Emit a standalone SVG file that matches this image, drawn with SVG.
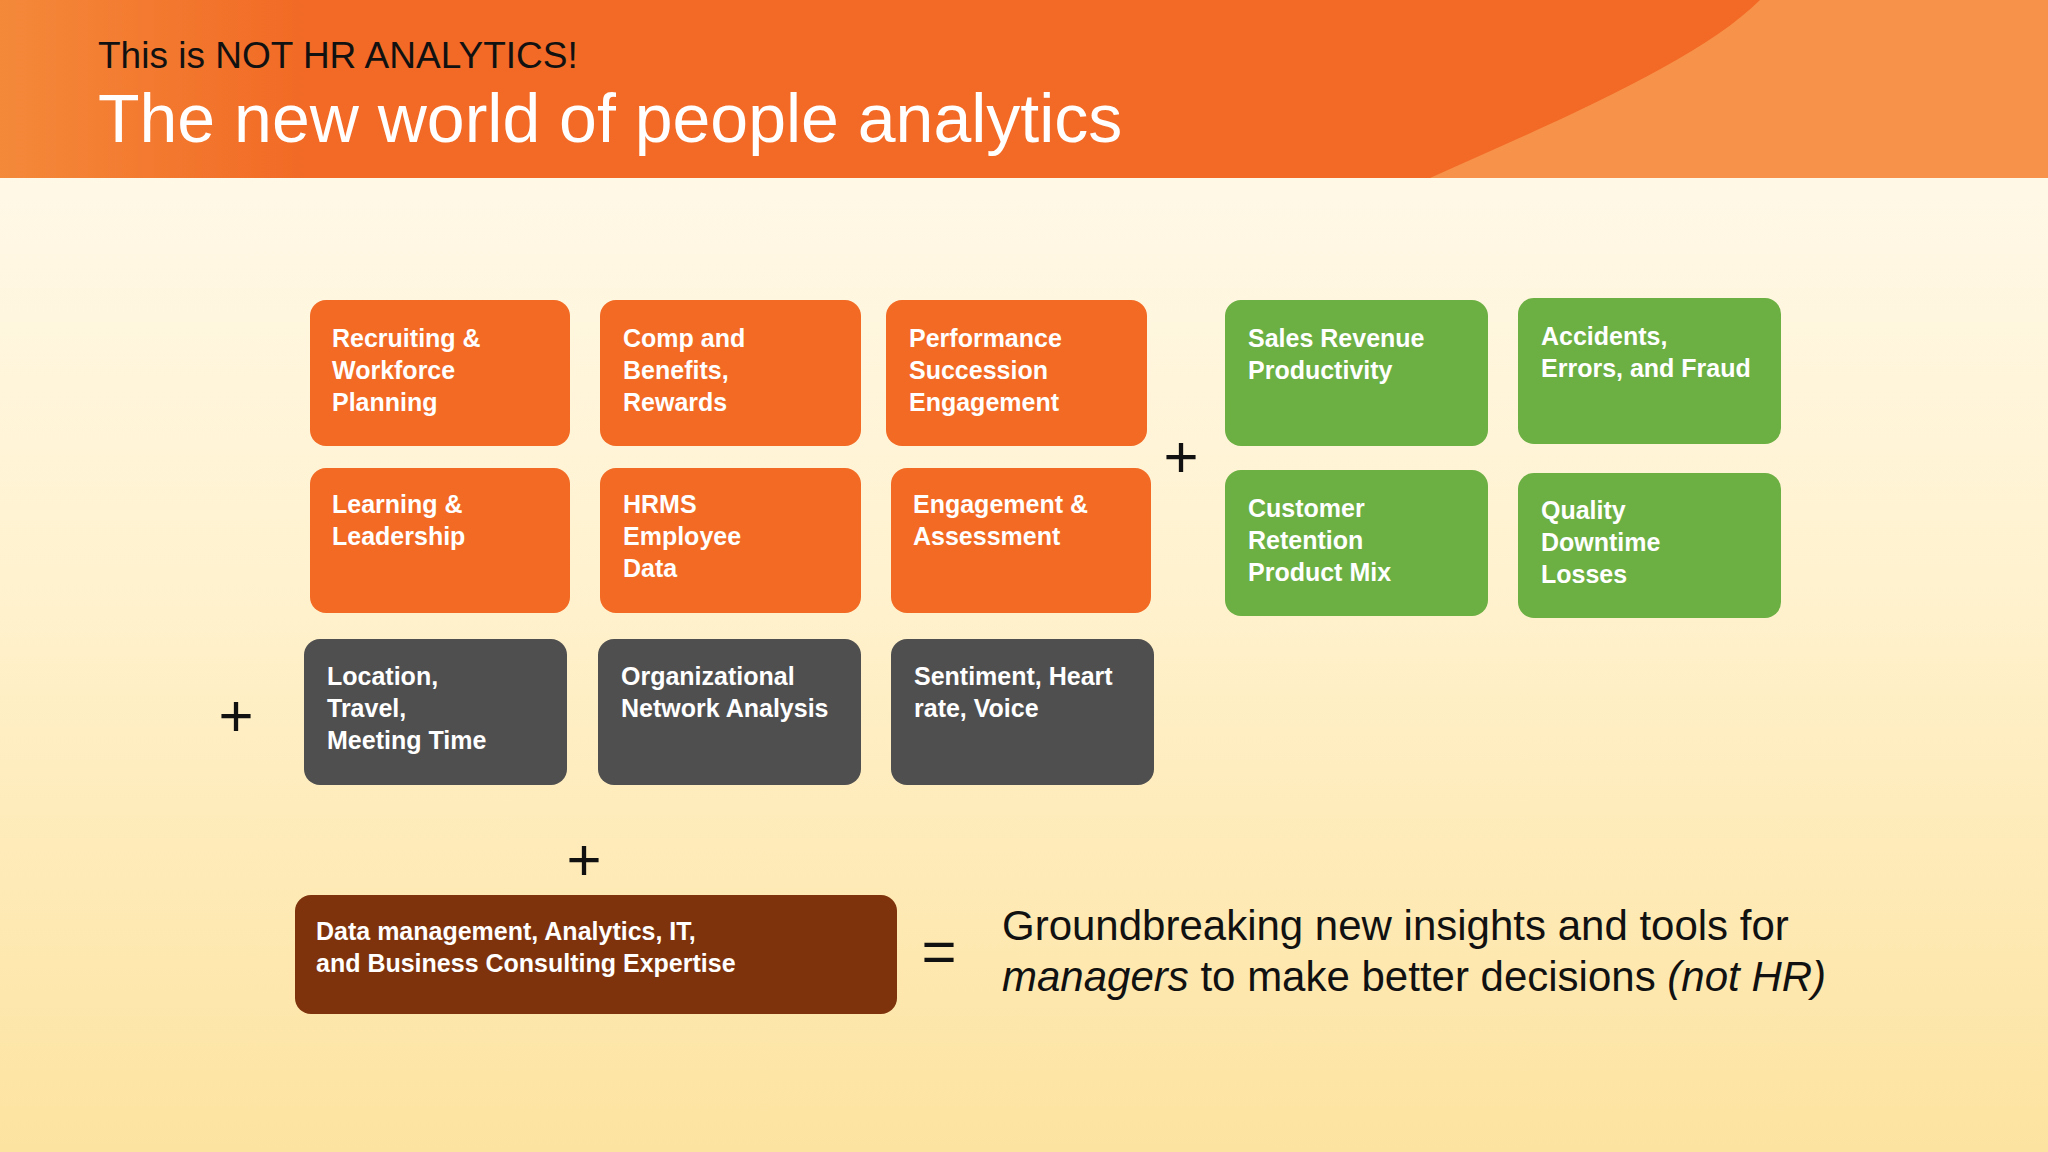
<svg xmlns="http://www.w3.org/2000/svg" width="2048" height="1152" viewBox="0 0 2048 1152">
<defs>
<linearGradient id="bg" x1="0" y1="0" x2="0" y2="1"><stop offset="0" stop-color="#fffbf2"/><stop offset="0.5" stop-color="#fff2cf"/><stop offset="1" stop-color="#fde3a0"/></linearGradient>
<linearGradient id="hd" x1="0" y1="0" x2="1" y2="0"><stop offset="0" stop-color="#f4893a"/><stop offset="0.15" stop-color="#f26a25"/><stop offset="1" stop-color="#f26a25"/></linearGradient>
</defs>
<style>
.o{fill:#f26a24}.g{fill:#6cb043}.d{fill:#4f4f50}.b{fill:#7e330c}
.t{font-family:"Liberation Sans",Arial,sans-serif;font-weight:bold;font-size:25px;fill:#fff}
.p{font-family:"Liberation Sans",Arial,sans-serif;font-size:60px;fill:#111}
.r{font-family:"Liberation Sans",Arial,sans-serif;font-size:42px;fill:#111}
</style>
<rect width="2048" height="1152" fill="url(#bg)"/>
<rect width="2048" height="178" fill="url(#hd)"/>
<path d="M1430 178 C1560 120 1700 60 1760 0 L2048 0 L2048 178 Z" fill="#f7924a"/>
<text x="98" y="68" font-family="Liberation Sans,Arial,sans-serif" font-size="37" fill="#111">This is NOT HR ANALYTICS!</text>
<text x="98" y="142" font-family="Liberation Sans,Arial,sans-serif" font-size="68" fill="#fff">The new world of people analytics</text>
<g id="n1"><rect class="o" x="310" y="300" width="260" height="146" rx="16"/><text class="t" x="332" y="347">Recruiting &amp;</text><text class="t" x="332" y="379">Workforce</text><text class="t" x="332" y="411">Planning</text></g>
<g id="n2"><rect class="o" x="600" y="300" width="261" height="146" rx="16"/><text class="t" x="623" y="347">Comp and</text><text class="t" x="623" y="379">Benefits,</text><text class="t" x="623" y="411">Rewards</text></g>
<g id="n3"><rect class="o" x="886" y="300" width="261" height="146" rx="16"/><text class="t" x="909" y="347">Performance</text><text class="t" x="909" y="379">Succession</text><text class="t" x="909" y="411">Engagement</text></g>
<g id="n4"><rect class="o" x="310" y="468" width="260" height="145" rx="16"/><text class="t" x="332" y="513">Learning &amp;</text><text class="t" x="332" y="545">Leadership</text></g>
<g id="n5"><rect class="o" x="600" y="468" width="261" height="145" rx="16"/><text class="t" x="623" y="513">HRMS</text><text class="t" x="623" y="545">Employee</text><text class="t" x="623" y="577">Data</text></g>
<g id="n6"><rect class="o" x="891" y="468" width="260" height="145" rx="16"/><text class="t" x="913" y="513">Engagement &amp;</text><text class="t" x="913" y="545">Assessment</text></g>
<g id="n7"><rect class="g" x="1225" y="300" width="263" height="146" rx="16"/><text class="t" x="1248" y="347">Sales Revenue</text><text class="t" x="1248" y="379">Productivity</text></g>
<g id="n8"><rect class="g" x="1518" y="298" width="263" height="146" rx="16"/><text class="t" x="1541" y="345">Accidents,</text><text class="t" x="1541" y="377">Errors, and Fraud</text></g>
<g id="n9"><rect class="g" x="1225" y="470" width="263" height="146" rx="16"/><text class="t" x="1248" y="517">Customer</text><text class="t" x="1248" y="549">Retention</text><text class="t" x="1248" y="581">Product Mix</text></g>
<g id="n10"><rect class="g" x="1518" y="473" width="263" height="145" rx="16"/><text class="t" x="1541" y="519">Quality</text><text class="t" x="1541" y="551">Downtime</text><text class="t" x="1541" y="583">Losses</text></g>
<g id="n11"><rect class="d" x="304" y="639" width="263" height="146" rx="16"/><text class="t" x="327" y="685">Location,</text><text class="t" x="327" y="717">Travel,</text><text class="t" x="327" y="749">Meeting Time</text></g>
<g id="n12"><rect class="d" x="598" y="639" width="263" height="146" rx="16"/><text class="t" x="621" y="685">Organizational</text><text class="t" x="621" y="717">Network Analysis</text></g>
<g id="n13"><rect class="d" x="891" y="639" width="263" height="146" rx="16"/><text class="t" x="914" y="685">Sentiment, Heart</text><text class="t" x="914" y="717">rate, Voice</text></g>
<g id="n14"><rect class="b" x="295" y="895" width="602" height="119" rx="16"/><text class="t" x="316" y="940">Data management, Analytics, IT,</text><text class="t" x="316" y="972">and Business Consulting Expertise</text></g>
<g id="connectors">
<text class="p" x="1181" y="477" text-anchor="middle">+</text>
<text class="p" x="236" y="736" text-anchor="middle">+</text>
<text class="p" x="584" y="880" text-anchor="middle">+</text>
<text class="p" x="939" y="972" text-anchor="middle">=</text>
</g>
<text class="r" x="1002" y="940">Groundbreaking new insights and tools for</text>
<text class="r" x="1002" y="991"><tspan font-style="italic">managers</tspan> to make better decisions <tspan font-style="italic">(not HR)</tspan></text>
</svg>
